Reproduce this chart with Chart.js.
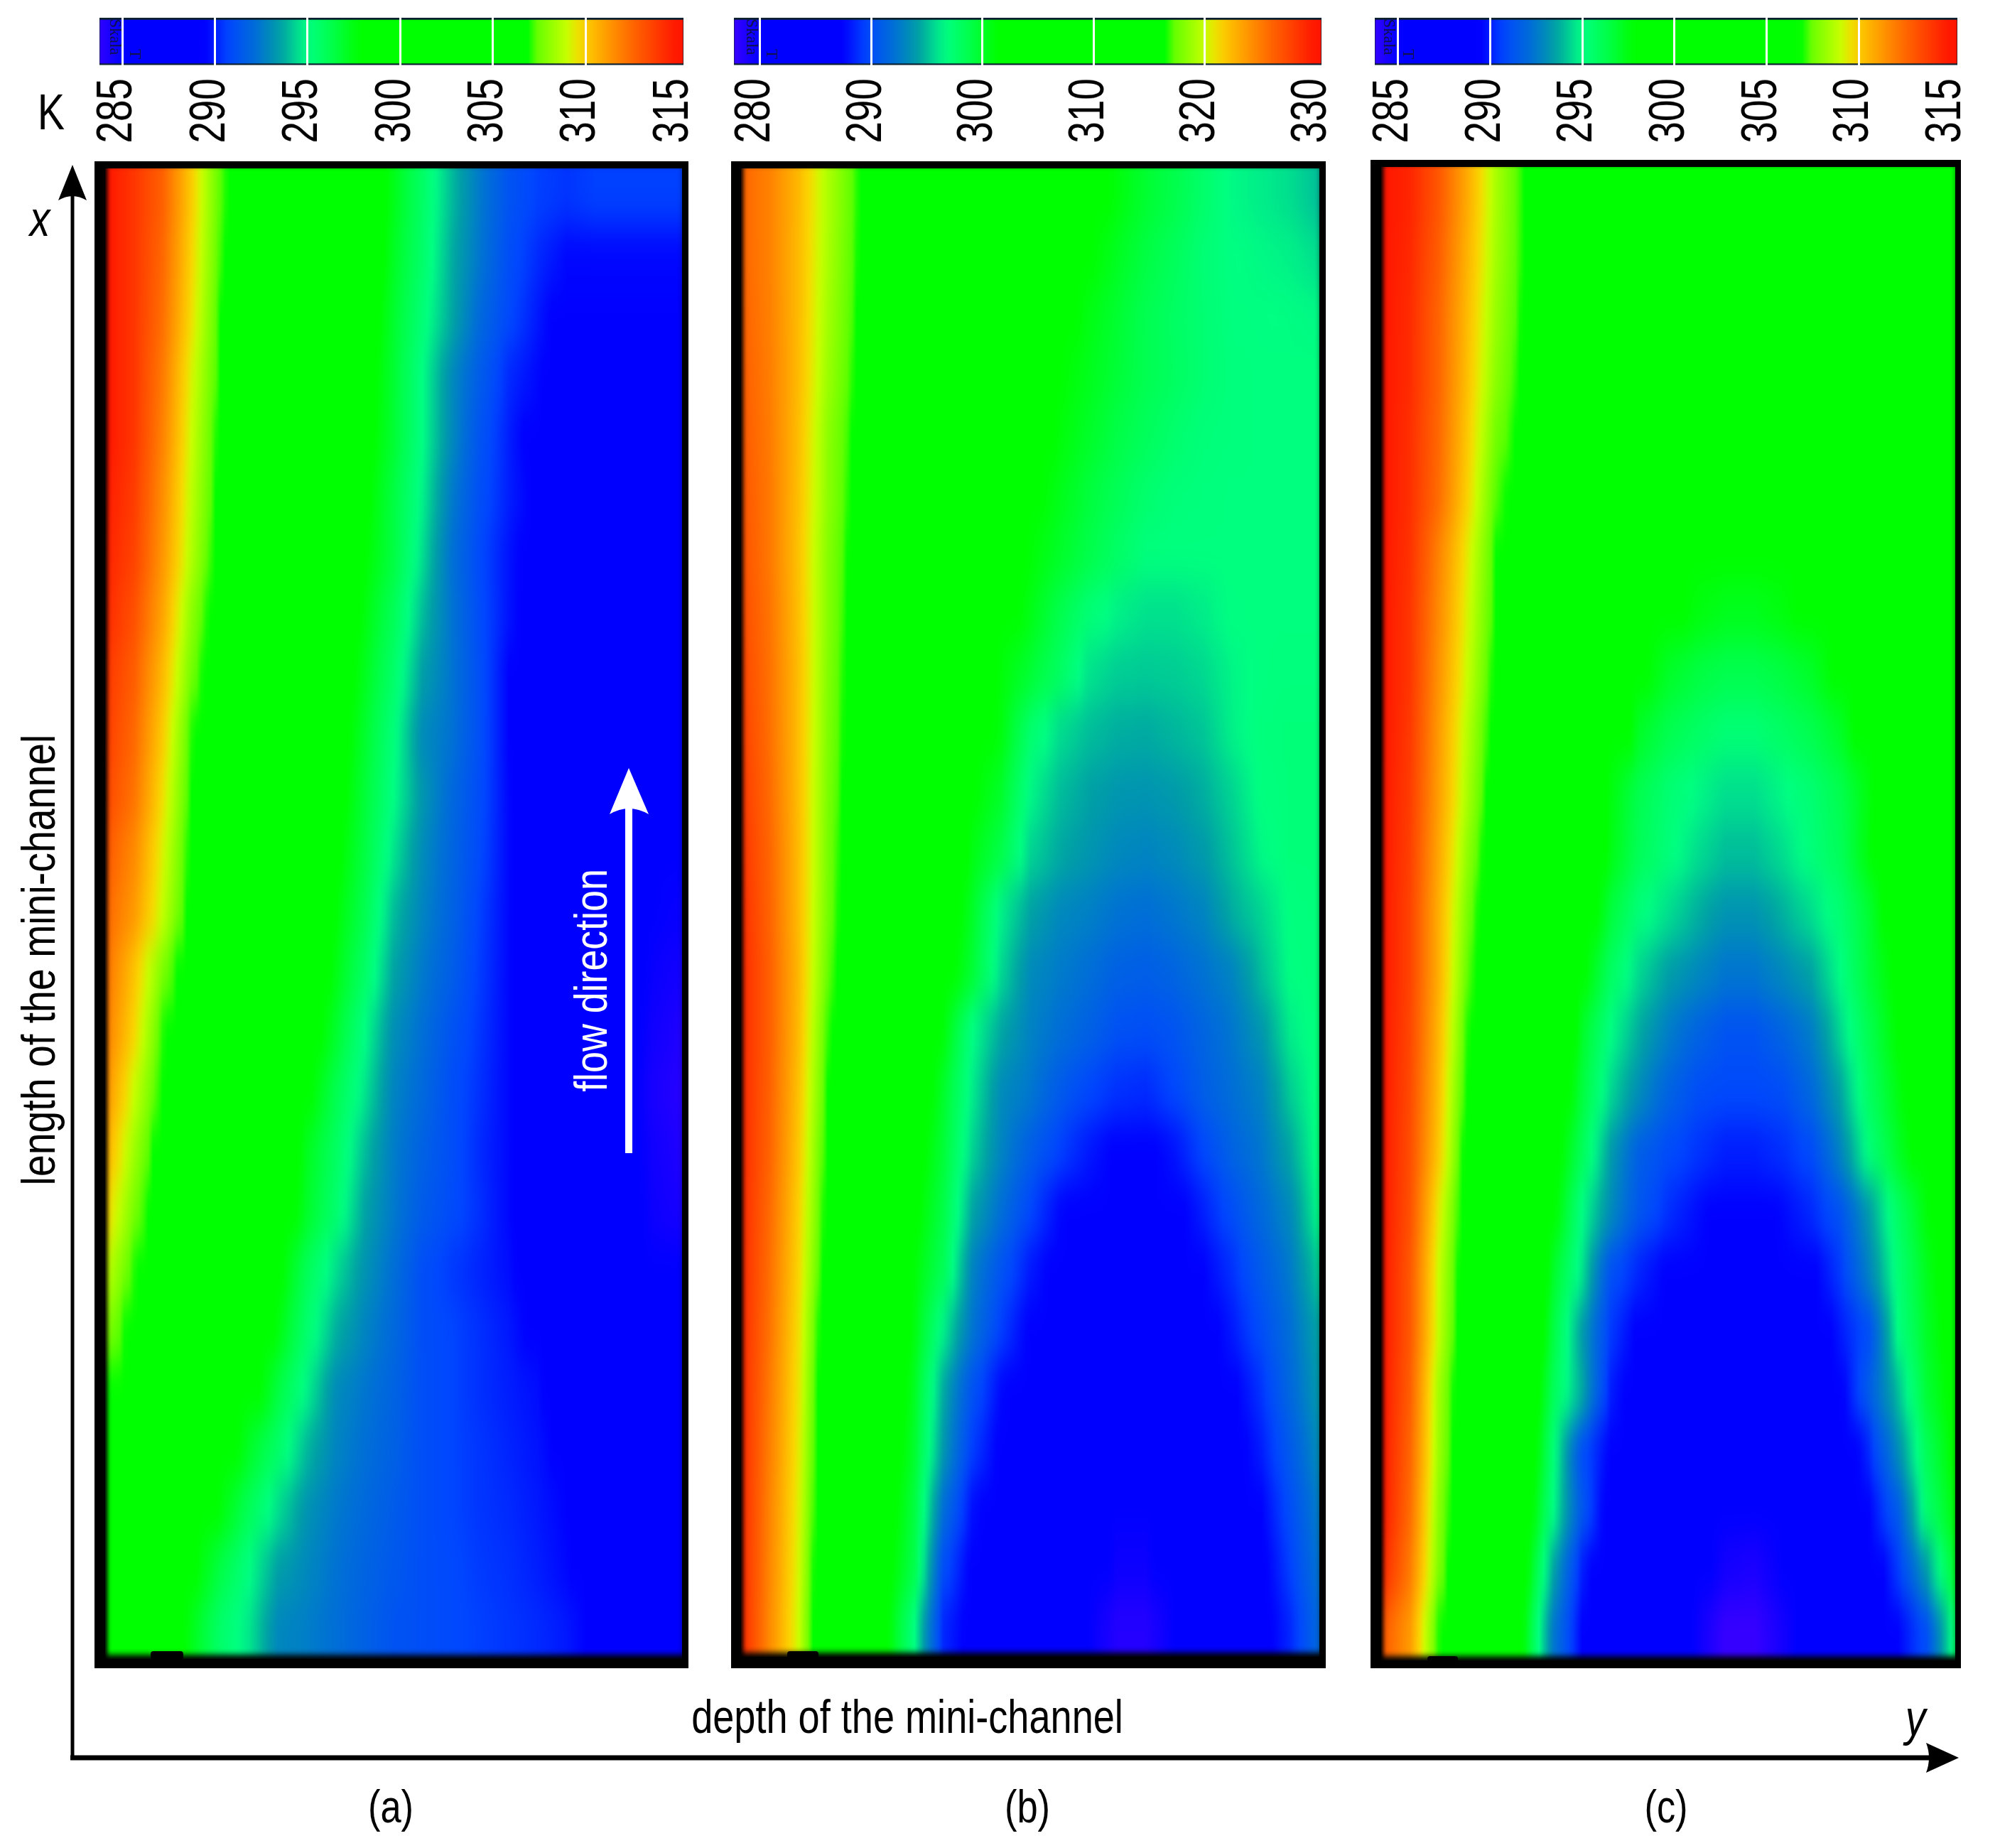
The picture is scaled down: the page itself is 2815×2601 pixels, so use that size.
<!DOCTYPE html>
<html>
<head>
<meta charset="utf-8">
<title>Mini-channel temperature fields</title>
<script src="https://cdn.jsdelivr.net/npm/chart.js@4"></script>
<style>
  html, body { margin: 0; background: #fff; }
  #page { position: relative; width: 2815px; height: 2601px; overflow: hidden; }
  canvas { position: absolute; }
  .heat { filter: url(#rowBlur); }
  .frame { position: absolute; background: #000; }
  .inner { position: absolute; overflow: hidden; background: #000; }
  .shade { position: absolute; inset: 0; box-shadow: inset 6px 0 6px -3px #000, inset 0 -9px 8px -3px #000; }
  .lbl {
    position: absolute; white-space: nowrap; line-height: 1; color: #000;
    font-family: "Liberation Sans", sans-serif;
    transform: translate(-50%, -50%) scaleX(.82);
  }
  .up { transform: translate(-50%, -50%) rotate(-90deg) scaleX(.84); }
  .skala { font-family: "Liberation Serif", serif; font-size: 23px; color: #10104a; transform: translate(-50%, -50%) rotate(90deg); }
  .mark { position: absolute; height: 13px; background: #000; border-radius: 4px 4px 0 0; }
  svg.over { position: absolute; left: 0; top: 0; pointer-events: none; }
</style>
</head>
<body>
<svg width="0" height="0" style="position:absolute">
  <filter id="rowBlur" x="0" y="-10%" width="100%" height="120%" color-interpolation-filters="sRGB">
    <feGaussianBlur stdDeviation="0 26"/>
  </filter>
</svg>
<div id="page">
  <div class="frame" style="left:133px;top:227px;width:836px;height:2121px"></div>
  <div class="frame" style="left:1029px;top:227px;width:837px;height:2121px"></div>
  <div class="frame" style="left:1929px;top:225px;width:831px;height:2123px"></div>

  <div class="inner" style="left:148px;top:237px;width:812px;height:2098px"><canvas id="heatA" class="heat"></canvas><div class="shade"></div></div>
  <div class="inner" style="left:1043px;top:237px;width:814px;height:2095px"><canvas id="heatB" class="heat"></canvas><div class="shade"></div></div>
  <div class="inner" style="left:1944px;top:235px;width:808px;height:2102px"><canvas id="heatC" class="heat"></canvas><div class="shade"></div></div>

  <canvas id="barA"></canvas>
  <canvas id="barB"></canvas>
  <canvas id="barC"></canvas>

  <div class="mark" style="left:212px;top:2324px;width:46px"></div>
  <div class="mark" style="left:1108px;top:2324px;width:44px"></div>
  <div class="mark" style="left:2009px;top:2331px;width:43px;height:7px"></div>

  <svg class="over" width="2815" height="2601">
    <path d="M102 2477V270" stroke="#000" stroke-width="5" fill="none"/>
    <path d="M102 232L122 282Q102 270 82 282Z" fill="#000"/>
    <path d="M99 2474H2725" stroke="#000" stroke-width="7" fill="none"/>
    <path d="M2757 2474L2711 2453Q2719 2474 2711 2495Z" fill="#000"/>
    <path d="M885 1623V1135" stroke="#fff" stroke-width="10" fill="none"/>
    <path d="M885 1081L913 1146Q885 1130 858 1146Z" fill="#fff"/>
  </svg>

  <div class="lbl" style="left:72px;top:158px;font-size:70px">K</div>
  <div class="lbl" style="left:56px;top:308px;font-size:70px;font-style:italic">x</div>
  <div class="lbl" style="left:2696px;top:2418px;font-size:70px;font-style:italic">y</div>
  <div class="lbl up" style="left:54px;top:1351px;font-size:66px">length of the mini-channel</div>
  <div class="lbl up" style="left:832px;top:1380px;font-size:64px;color:#fff">flow direction</div>
  <div class="lbl" style="left:1277px;top:2416px;font-size:66px">depth of the mini-channel</div>
  <div class="lbl" style="left:550px;top:2543px;font-size:64px">(a)</div>
  <div class="lbl" style="left:1446px;top:2543px;font-size:64px">(b)</div>
  <div class="lbl" style="left:2345px;top:2543px;font-size:64px">(c)</div>

  <div class="lbl skala" style="left:162px;top:52px">Skala</div>
  <div class="lbl skala" style="left:190px;top:76px">T</div>
  <div class="lbl skala" style="left:1058px;top:52px">Skala</div>
  <div class="lbl skala" style="left:1086px;top:76px">T</div>
  <div class="lbl skala" style="left:1955px;top:52px">Skala</div>
  <div class="lbl skala" style="left:1982px;top:76px">T</div>
</div>

<script>
// depth across the channel, 0 = heated wall, 1 = far side
const depthCols = [0, .05, .1, .15, .2, .25, .3, .35, .4, .45, .5, .55, .6, .65, .7, .75, .8, .85, .9, .95, 1];

const scaleATicks = [285, 290, 295, 300, 305, 310, 315];
const scaleBTicks = [280, 290, 300, 310, 320, 330];
const scaleCTicks = [285, 290, 295, 300, 305, 310, 315];

// temperature in K, rows run from the top of the channel to the bottom
const panelARows = [
  [315,314,312.7,310,307.2,306,304.5,303,301,299,297.3,295.7,294,292.5,291.2,290.6,290.4,290.6,290.6,290.6,290.6],
  [315,314,312.5,309.8,307.1,305.8,304.2,302.6,300.8,299,297.1,295.6,293.8,292.4,291,290.2,289.6,289.6,289.6,289.6,289.6],
  [315,314,312.3,309.6,306.9,305.4,303.8,302.3,300.6,298.7,296.9,295.3,293.7,292,290.8,289.9,289,288.6,288.4,288,288],
  [315,314,312,309.2,306.8,305.2,303.6,302,300.2,298.4,296.8,295,293,291.5,290.2,289.6,288.8,288,287.6,287.4,287],
  [315,314,311.8,309,306.6,305,303.3,301.6,299.9,298.2,296.8,295,293,291.2,290,289,288.4,288,287.5,287,287],
  [314.8,313.8,311.5,308.8,306.5,304.8,303,301.4,299.7,298,296.5,294.8,292.6,291,290,289.3,288.4,287.8,287.3,287,286.8],
  [314.6,313.6,311.3,308.6,306.3,304.6,302.8,301,299.3,297.8,296.5,294.5,292.3,290.8,289.8,289,288.4,287.7,287.2,286.8,286.5],
  [314.4,313.2,310.9,308,306,304.3,302.5,300.8,299,297.5,296,294,292.4,290.9,289.8,289,288.2,287.6,287,286.6,286.4],
  [314,312.8,310.4,307.6,305.7,304,302.2,300.4,298.7,297.2,295.6,293.5,292.4,291,289.5,289,288,287.4,286.8,286.4,286],
  [313.8,312.5,310,307,305.5,303.8,302,300.3,298.5,296.9,295.2,293,292.3,291,289.5,288.8,288,287.2,286.7,286,285.7],
  [313.5,312.2,309.6,306.8,305.2,303.5,301.8,300,298.3,296.7,295,293.3,292,290.9,289.6,288.8,288,287,286.4,285.7,285.3],
  [313,311.6,309.2,306.6,304.9,303.2,301.5,299.8,298,296.5,294.6,293,291.9,290.8,289.6,288.7,287.8,287,286.2,285.3,285],
  [312.6,311.2,308.9,306.4,304.7,303,301.3,299.6,297.7,296.2,294,292.8,291.8,290.6,289.6,288.7,287.8,286.8,286,285,284.8],
  [312.3,310.2,307.7,306,304.3,302.6,300.9,299.2,297.4,295.7,293.6,292.5,291.6,290.5,289.6,288.6,287.6,286.6,285.7,284.8,284.5],
  [312,309.8,307,305.5,303.8,302,300.3,298.6,296.9,295,293.1,292.2,291.2,290.4,289.6,288.5,287.5,286.5,285.5,284.6,284.2],
  [311.5,309,306.7,305.1,303.4,301.6,300,298,296.2,294.6,292.8,292,291,290.3,289.6,288.4,287.4,286.4,285.4,284.4,284],
  [310.8,308.3,306.2,304.6,302.9,301.2,299.3,297.2,295.8,294,292.6,291.7,291,290.2,289.6,288.5,287.4,286.4,285.4,284.6,284.2],
  [310,307.7,305.9,304.2,302.4,300.7,298.9,297,295.5,293.6,292.5,291.5,290.9,290.3,289.6,288.5,287.4,286.5,285.5,284.7,284.4],
  [309,307,305.2,303.4,301.6,299.8,298,296,294.5,293.2,292.2,291,290.5,290.1,289.7,288.8,287.8,286.8,286,285.2,285],
  [308,306.4,304.6,302.8,301,299.2,297.5,295.5,293.8,292.8,292,291,290.7,290.3,289.9,289.2,288.3,287.2,286.4,285.8,285.6],
  [306.5,305.3,303.6,301.9,300.2,298.5,296.5,294.8,293,292.4,291.8,291,290.7,290.3,290,289.7,288.6,287.8,287,286.5,286.2],
  [305,304,302.3,300.5,298.8,297,295.6,293.9,292.8,292.2,291.7,291,290.7,290.4,290.1,289.8,289.2,288.2,287.5,287,286.7],
  [304,303,301,299.2,297.6,296,294.5,293.2,292.5,292,291.5,291,290.7,290.4,290.2,289.9,289.5,288.8,288,287.5,287.2],
  [303,302,299.8,298,296.4,295,293.5,292.9,292.3,291.8,291.4,291,290.8,290.5,290.3,290,289.6,289,288.5,288,287.8],
  [302,301,299,297.3,295.6,294.6,292.9,292.6,292.2,291.7,291.2,291,290.8,290.6,290.4,290.2,289.9,289.3,288.9,288.5,288.3]
];

const panelBRows = [
  [326,324.7,322.4,319.3,316.7,314.9,313,311.2,309.4,307.6,305.7,303.9,302.1,300.9,299.7,298.8,297.6,296.5,296.2,295.8,295],
  [326,324.7,322.3,319.2,316.6,314.7,312.7,310.8,308.8,306.8,304.9,302.9,301.4,300.2,299.1,298.2,297.2,296.7,296.5,296.3,295.8],
  [326.2,324.8,322.3,319,316.5,314.4,312.4,310.3,308.3,306.2,304.2,302.1,300.7,299.7,298.6,297.9,297.3,296.8,296.7,296.6,296.5],
  [326.4,324.9,322.3,318.8,316.3,314.2,312,309.9,307.7,305.6,303.4,301.3,300.4,299.5,298.6,298,297.3,296.9,296.8,296.8,296.8],
  [326.6,325,322.2,318.4,316.1,313.9,311.7,309.4,307.2,304.9,302.7,301,300,299,298.2,297.5,297,296.9,296.8,296.8,296.8],
  [326.8,325.1,322.1,318.4,315.9,313.6,311.2,308.9,306.5,304.2,301.7,300.5,299.4,298.4,297.5,297,296.9,296.8,296.8,296.8,296.8],
  [327,325.1,322,318.2,315.7,313.2,310.7,308.3,305.8,303.3,301.1,300,298.9,297.8,296.9,296.8,296.8,296.8,296.8,296.8,296.8],
  [327.3,325.3,322.1,318.2,315.5,312.9,310.2,307.6,304.9,302.2,300.6,298.8,297.2,296.3,295.9,295.9,296.2,296.7,296.8,296.8,296.8],
  [327.6,325.4,322.2,318.1,315.3,312.4,309.5,306.6,303.7,301,299.6,298,296,295.4,295.3,295.4,295.7,296.4,296.8,296.9,296.9],
  [327.9,325.5,322.2,318,315.2,311.9,308.7,305.4,302.1,300.8,297.5,295.8,295,294.6,294.5,294.8,295.2,296.3,296.9,297,297],
  [328.2,325.7,322.2,317.9,315,311.6,308.2,304.8,301.4,299.9,296.5,295,294.3,293.8,293.7,294,294.6,295.6,296.8,297,297],
  [328.5,325.9,322.3,317.8,314.7,311.2,307.6,304.1,300.7,298.9,295.6,294.5,293.8,293.2,293,293.3,294,295.2,296.5,297,297],
  [328.8,326,322.3,317.7,314.5,310.7,306.9,303.1,300,296.3,294.3,293.2,292.8,292.2,292,292.4,293,294.6,295.6,296.8,297],
  [329,326.2,322.4,317.4,313.9,310,306,302.3,299.6,295.7,293.3,292.6,292,291.2,291,291.4,292.2,293,295,296.7,297],
  [329,326.2,322.3,316.8,313,308.9,304.8,301,296.7,294.4,292.9,292,291.2,290.2,290,290.4,291.4,292.4,293.8,296.2,297],
  [329,326.1,322,316.5,312.1,307.7,303.3,299.9,296.2,293.3,292.4,290.8,289.6,288.9,288.7,289.6,291,292,292.9,295.4,297],
  [329,326,321.8,316,311.3,306.7,302.2,299.5,295.6,293,291,289.4,288.2,287.3,287.2,288,289.6,291.3,292.4,294.4,297],
  [329,325.7,321.5,315.7,310.9,306.3,301.7,299,294.4,292,289.6,287.7,287,286.7,286.7,287,288.4,290,291.7,293.3,296.7],
  [329,325.5,321.3,315.2,310.2,305.5,301.1,298.4,293,290.3,288.2,287,286.6,286.4,286.4,286.7,287.5,288.9,290.8,292.6,295.5],
  [329,325.3,321,314.5,309.7,305,300.8,296.3,292.3,289.3,287.3,286.6,286.2,286,286,286.2,286.8,288.2,290,292,294.4],
  [329,325,320.8,314,309,304,300.2,294.5,290.3,287.7,287,286.4,286,285.8,285.8,286,286.4,287.2,289,291.6,294],
  [329,324.8,320.6,313.7,308.6,303.2,299.8,293.9,289.3,287.2,286.6,286,285.6,285.4,285.4,285.6,286,286.8,288.3,290.8,293.5],
  [329,324.6,320.4,313.4,308,302.6,299.2,292,287.9,286.8,286.2,285.6,284.5,282,282,284.5,285.6,286.4,287.5,290,292.8],
  [329,324.5,320.2,313,307.4,302,298.8,290,287.2,286.5,285.8,284.5,281.5,279.5,279.5,281.5,284.5,286,287,289.4,292.3],
  [329,324.3,320,312.5,307,301.7,296.7,288.6,287,286.3,285.5,283,280,278.5,278.5,280,283,285.6,286.8,288.6,291.7]
];

const panelCRows = [
  [315,314.5,313,310.8,308.5,306.8,305.8,305,304,303,302,301,300.5,300,300,300,300,300,300,300,300],
  [315,314.4,312.8,310.6,308.4,306.8,305.7,304.8,304,303,302,301,300.5,300,300,300,300,300,300,300,300],
  [315,314.3,312.6,310.4,308.2,306.7,305.6,304.7,304,303,302,301,300.5,300,300,300,300,300,300,300,300],
  [315,314.3,312.6,310.3,308,306.6,305.5,304.6,304,303,302,301,300.5,300,300,300,300,300,300,300,300],
  [315,314.2,312.5,310.1,307.6,306.5,305.4,304.5,303.8,303,302,301,300.5,300,300,300,300,300,300,300,300],
  [315,314.2,312.4,309.9,307.2,306.4,305.3,304.4,303.6,302.8,301.8,300.8,300.2,300,300,300,300,300,300,300,300],
  [315,314.1,311.8,309.4,306.9,306.2,305.2,304.2,303.4,302.4,301,299.8,298.4,298.4,299,299.8,300,300,300,300,300],
  [315,314,311.6,309.2,306.8,306,305,304,303,299.5,298,297.5,297.2,297.2,297.5,298,299.5,300,300,300,300],
  [315,314,311.4,309,306.6,305.8,304.8,303.7,302,298,297,296.5,296.2,296.2,296.5,297,298,299.5,300,300,300],
  [315,313.9,311.2,308.7,306.3,305.3,304,302.3,299.3,297,296.2,295.7,295.3,295.3,295.7,296.2,297,298.5,300,300,300],
  [315,313.8,311.1,308.5,306,304.7,303.3,301,297.5,296.2,295.4,294.9,294.5,294.5,294.9,295.4,296.2,297.5,300,300,300],
  [315,313.7,310.9,308.1,305.8,304.2,302.6,300,297.4,296,295.2,294.5,294,294,294.5,295.2,296,297.6,299.5,300,300],
  [315,313.6,310.7,307.7,305.5,303.8,302,299,296.6,295.2,294.5,293.8,293.2,293.2,293.8,294.5,295.4,296.8,298.8,300,300],
  [315,313.6,310.7,307.4,305.3,303.5,301.5,298,295.8,294.4,293.5,292.9,292.4,292.4,292.9,293.6,295,296.7,298,299.5,300],
  [315,313.5,310.5,307,305,303,300.7,297,295,293.7,292.6,291.8,291.2,291.2,291.8,292.6,294.4,296.2,297.8,299.2,300],
  [315,313.4,310.3,306.6,304.6,302.4,299.5,296.6,294.4,293,291.8,291,290.8,290.8,291,292,293.6,295.8,297.4,298.8,300],
  [315,313.3,310.1,306.3,304.3,301.7,298.4,296,293.4,291.6,290.9,290.4,290,290,290.3,290.9,292.8,295.2,297,298.5,299.5],
  [315,313.2,309.4,306,304,301,298,295,293,291.3,290.3,289.7,289.2,289.2,289.6,290.2,291.2,293.4,295.7,297.6,299],
  [315,313,309,305.9,303.7,300.6,297,294.6,291.1,290.1,289.4,288.7,288.3,288.3,288.7,289.3,290.5,292.8,295.3,297.2,298.6],
  [315,313,308.9,305.7,303.4,300.2,296.5,293.4,290.5,289.3,288.6,288,287.7,287.7,288,288.6,289.9,291,295,297,298.4],
  [315,312.8,308.4,305.5,303.2,299.7,296,293.7,290,288.9,288,287.5,287.2,287.2,287.5,288,289.2,291.6,294,296.7,298.2],
  [315,312.6,308.3,305.3,303,299.5,295.3,291,289.4,288.3,287.6,287,286.7,286.7,287,287.6,288.4,290.2,293,296,298],
  [315,312.4,308,305.2,303,298.8,295,291.4,288.8,287.8,287,286.3,285.6,285.5,286,286.8,287.8,289.5,291.5,295.5,297.6],
  [314.5,312,307.8,305,302.5,298.2,293.6,290,288.5,287.5,286.5,285.5,284.5,284.3,285,286,287.2,288.5,290.5,293.4,297],
  [313,311.2,307,304.5,302,297.5,292.5,289.5,288,287,286,284.8,283.6,283.6,284.5,285.5,286.7,287.8,289.5,291,295.5]
];

// colour scale from the bars on top, position along the bar -> rgb
const colorStops = [
  [-.06, [70, 0, 255]], [0, [0, 0, 255]], [.15, [0, 0, 255]], [.19, [0, 70, 255]],
  [.24, [0, 110, 215]], [.285, [0, 160, 165]], [.333, [0, 255, 130]], [.38, [0, 255, 70]],
  [.425, [0, 255, 0]], [.73, [0, 255, 0]], [.74, [90, 255, 0]], [.8, [200, 255, 0]],
  [.825, [250, 215, 0]], [.86, [255, 170, 0]], [.92, [255, 100, 0]], [1, [255, 20, 0]]
];

function colorAt(t) {
  if (t <= colorStops[0][0]) return `rgb(${colorStops[0][1].join(',')})`;
  for (let i = 1; i < colorStops.length; i++) {
    const [t1, c1] = colorStops[i];
    if (t <= t1) {
      const [t0, c0] = colorStops[i - 1];
      const f = (t - t0) / (t1 - t0);
      return `rgb(${c0.map((v, k) => Math.round(v + (c1[k] - v) * f)).join(',')})`;
    }
  }
  return `rgb(${colorStops[colorStops.length - 1][1].join(',')})`;
}

function rowFill(chart, row, low, high) {
  const x = chart.scales.x;
  const g = chart.ctx.createLinearGradient(x.getPixelForValue(0), 0, x.getPixelForValue(1), 0);
  for (let i = 0; i < depthCols.length - 1; i++) {
    for (let s = 0; s < 6; s++) {
      const f = s / 6;
      const d = depthCols[i] + (depthCols[i + 1] - depthCols[i]) * f;
      const v = row[i] + (row[i + 1] - row[i]) * f;
      g.addColorStop(d, colorAt((v - low) / (high - low)));
    }
  }
  g.addColorStop(1, colorAt((row[row.length - 1] - low) / (high - low)));
  return g;
}

// one horizontal bar per row, the outer two rows sit behind the frame
function heatChart(id, rows, low, high) {
  const canvas = document.getElementById(id);
  const box = canvas.parentElement;
  const rowH = box.clientHeight / rows.length;
  canvas.width = box.clientWidth;
  canvas.height = Math.round(box.clientHeight + 2 * rowH);
  canvas.style.top = `${-rowH}px`;
  const all = [rows[0], ...rows, rows[rows.length - 1]];
  new Chart(canvas, {
    type: 'bar',
    data: {
      labels: all.map((_, i) => i),
      datasets: [{
        data: all.map(() => [0, 1]),
        backgroundColor: ctx => (ctx.chart.chartArea ? rowFill(ctx.chart, all[ctx.dataIndex], low, high) : '#000'),
        barPercentage: 1,
        categoryPercentage: 1,
        borderWidth: 0
      }]
    },
    options: {
      indexAxis: 'y',
      responsive: false,
      animation: false,
      plugins: { legend: { display: false }, tooltip: { enabled: false } },
      scales: {
        x: { type: 'linear', min: 0, max: 1, display: false },
        y: { display: false }
      }
    }
  });
}

// the canvas is squeezed with scaleY so the upright tick labels come out condensed
function barChart(id, ticks, left, right, barMin, barMax) {
  const canvas = document.getElementById(id);
  const pad = 140;
  canvas.width = right - left + 2 * pad;
  canvas.height = 226;
  canvas.style.left = `${left - pad}px`;
  canvas.style.top = '25px';
  canvas.style.transformOrigin = 'top left';
  canvas.style.transform = 'scaleY(.782)';
  const low = ticks[0];
  const high = ticks[ticks.length - 1];
  new Chart(canvas, {
    type: 'bar',
    data: {
      labels: ['T'],
      datasets: [{
        data: [[barMin, barMax]],
        backgroundColor: ctx => {
          const chart = ctx.chart;
          if (!chart.chartArea) return '#000';
          const x = chart.scales.x;
          const g = chart.ctx.createLinearGradient(x.getPixelForValue(barMin), 0, x.getPixelForValue(barMax), 0);
          for (let i = 0; i <= 60; i++) {
            const v = barMin + (barMax - barMin) * i / 60;
            g.addColorStop(i / 60, colorAt((v - low) / (high - low)));
          }
          return g;
        },
        borderColor: '#0c2230',
        borderWidth: { top: 4, bottom: 3, left: 1, right: 1 },
        borderSkipped: false,
        barPercentage: 1,
        categoryPercentage: 1
      }]
    },
    options: {
      indexAxis: 'y',
      responsive: false,
      animation: false,
      layout: { padding: { left: pad, right: pad } },
      plugins: { legend: { display: false }, tooltip: { enabled: false } },
      scales: {
        y: { display: false },
        x: {
          type: 'linear',
          min: barMin,
          max: barMax,
          afterBuildTicks: s => { s.ticks = ticks.map(value => ({ value })); },
          afterFit: s => { s.height = 141; },
          border: { display: false },
          grid: {
            z: 1,
            drawTicks: false,
            lineWidth: 3,
            color: c => (c.tick && c.tick.value === high ? 'rgba(0,0,0,0)' : '#fff')
          },
          ticks: {
            autoSkip: false,
            minRotation: 90,
            maxRotation: 90,
            padding: 24,
            labelOffset: -6,
            color: '#000',
            font: { family: '"Liberation Sans", sans-serif', size: 70 },
            callback: v => String(v)
          }
        }
      }
    }
  });
}

heatChart('heatA', panelARows, 285, 315);
heatChart('heatB', panelBRows, 280, 330);
heatChart('heatC', panelCRows, 285, 315);

barChart('barA', scaleATicks, 140, 962, 283.77, 315.29);
barChart('barB', scaleBTicks, 1033, 1860, 277.64, 330.48);
barChart('barC', scaleCTicks, 1935, 2755, 283.73, 315.36);
</script>
</body>
</html>
